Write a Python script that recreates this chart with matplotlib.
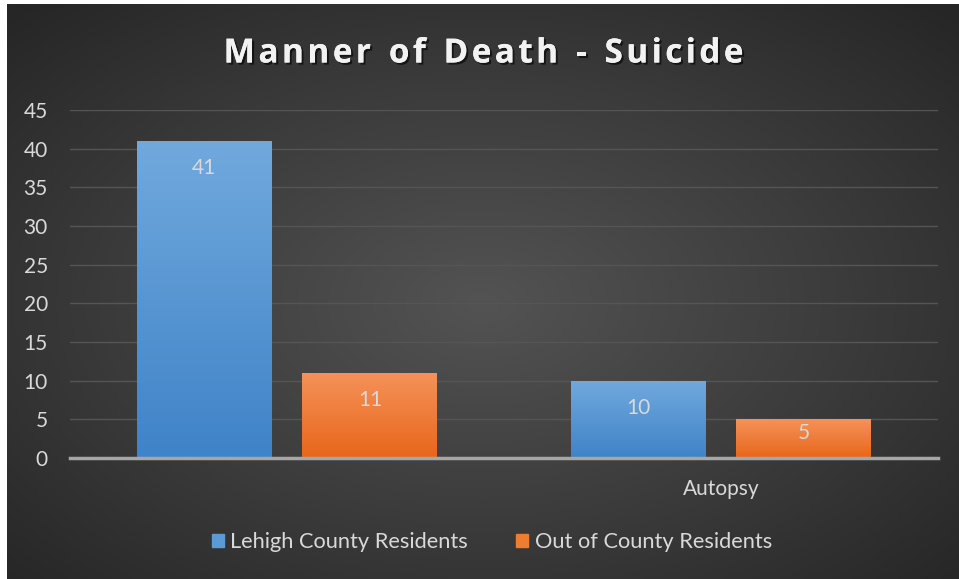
# Grouped bar chart: Manner of Death - Suicide

import matplotlib.pyplot as plt
import matplotlib.patheffects as pe
from matplotlib.colors import LinearSegmentedColormap
import numpy as np

# --- Data ---
categories = ['', 'Autopsy']
series_names = ['Lehigh County Residents', 'Out of County Residents']
lehigh = [41, 10]
out_county = [11, 5]
yticks = [0, 5, 10, 15, 20, 25, 30, 35, 40, 45]
title = 'Manner of Death - Suicide'

plt.rcParams['font.family'] = ['Lato', 'DejaVu Sans']

fig = plt.figure(figsize=(9.59, 5.79), dpi=100)
fig.patch.set_facecolor('white')

# background panel with radial gradient (white strip on left/top like the reference)
bg = fig.add_axes([7/959, 0, 952/959, 575/579])
yy, xx = np.mgrid[0:1:300j, 0:1:500j]
r = np.sqrt(((xx - 0.5) / 0.75) ** 2 + ((yy - 0.52) / 0.75) ** 2)
bg_cmap = LinearSegmentedColormap.from_list('bg', ['#535353', '#3d3d3d', '#262626'])
bg.imshow(r, cmap=bg_cmap, aspect='auto', extent=[0, 1, 0, 1], vmin=0, vmax=0.95)
bg.set_axis_off()

ax = fig.add_axes([70/959, 1 - 458/579, 868/959, 348/579])
ax.patch.set_alpha(0)

x = np.arange(len(categories))
width = 0.311
offset = 0.191

blue_cmap = LinearSegmentedColormap.from_list('b', ['#3f83c8', '#71a9dd'])
orange_cmap = LinearSegmentedColormap.from_list('o', ['#e8661a', '#f5925a'])

grad = np.linspace(0, 1, 256).reshape(-1, 1)
for vals, shift, cmap in [(lehigh, -offset, blue_cmap), (out_county, offset, orange_cmap)]:
    bars = ax.bar(x + shift, vals, width, color='none', zorder=3)
    for b, v in zip(bars, vals):
        x0, y0 = b.get_x(), b.get_y()
        im = ax.imshow(grad, cmap=cmap, origin='lower', aspect='auto',
                       extent=[x0, x0 + b.get_width(), y0, y0 + b.get_height()], zorder=3)
        im.set_clip_path(b)
        # label sits near the top, pushed up a little for short bars
        ax.text(b.get_x() + b.get_width() / 2, v - min(3.5, 0.36 * v), str(v), ha='center', va='center',
                color='#d9d9d9', fontsize=15, zorder=4)

ax.set_xlim(-0.5, 1.5)
ax.set_ylim(0, 45)
ax.set_yticks(yticks)
ax.set_xticks(x)
ax.set_xticklabels(categories)
ax.tick_params(axis='both', length=0, colors='#d9d9d9', labelsize=15)
ax.tick_params(axis='y', pad=16)
ax.tick_params(axis='x', pad=15)
ax.grid(axis='y', color='#555555', linewidth=1, zorder=0)
for s in ['top', 'right', 'left']:
    ax.spines[s].set_visible(False)
ax.spines['bottom'].set_color('#a6a6a6')
ax.spines['bottom'].set_linewidth(2.5)
ax.spines['bottom'].set_zorder(5)

# title with extra letter spacing: place characters one by one
title_kw = dict(color='#f2f2f2', fontsize=24, fontweight='bold', family=['Open Sans', 'DejaVu Sans'],
                va='center', ha='left',
                path_effects=[pe.withSimplePatchShadow(offset=(1.5, -1.5), shadow_rgbFace='black', alpha=0.6),
                              pe.Normal()])
renderer = fig.canvas.get_renderer()
spacing = 3.4  # px between letters
widths = []
for ch in title:
    t = fig.text(0, 0, ch if ch != ' ' else 'n', **title_kw)
    w = t.get_window_extent(renderer).width
    if ch == ' ':
        w *= 0.5
    widths.append(w)
    t.remove()
total = sum(widths) + spacing * (len(title) - 1)
xpos = (fig.bbox.width - total) / 2 + 4
ty = 1 - 54/579
for ch, w in zip(title, widths):
    if ch != ' ':
        fig.text(xpos / fig.bbox.width, ty, ch, **title_kw)
    xpos += w + spacing

handles = [plt.Rectangle((0, 0), 1, 1, color='#5b9bd5'), plt.Rectangle((0, 0), 1, 1, color='#ed7d31')]
leg = fig.legend(handles, series_names, loc='center', bbox_to_anchor=(0.513, 1 - 542/579), ncol=2,
                 frameon=False, fontsize=15.7, labelcolor='#d9d9d9', handlelength=0.55, handleheight=0.55,
                 handletextpad=0.3, columnspacing=2.2)

fig.savefig('out.png', dpi=100)
plt.close()
